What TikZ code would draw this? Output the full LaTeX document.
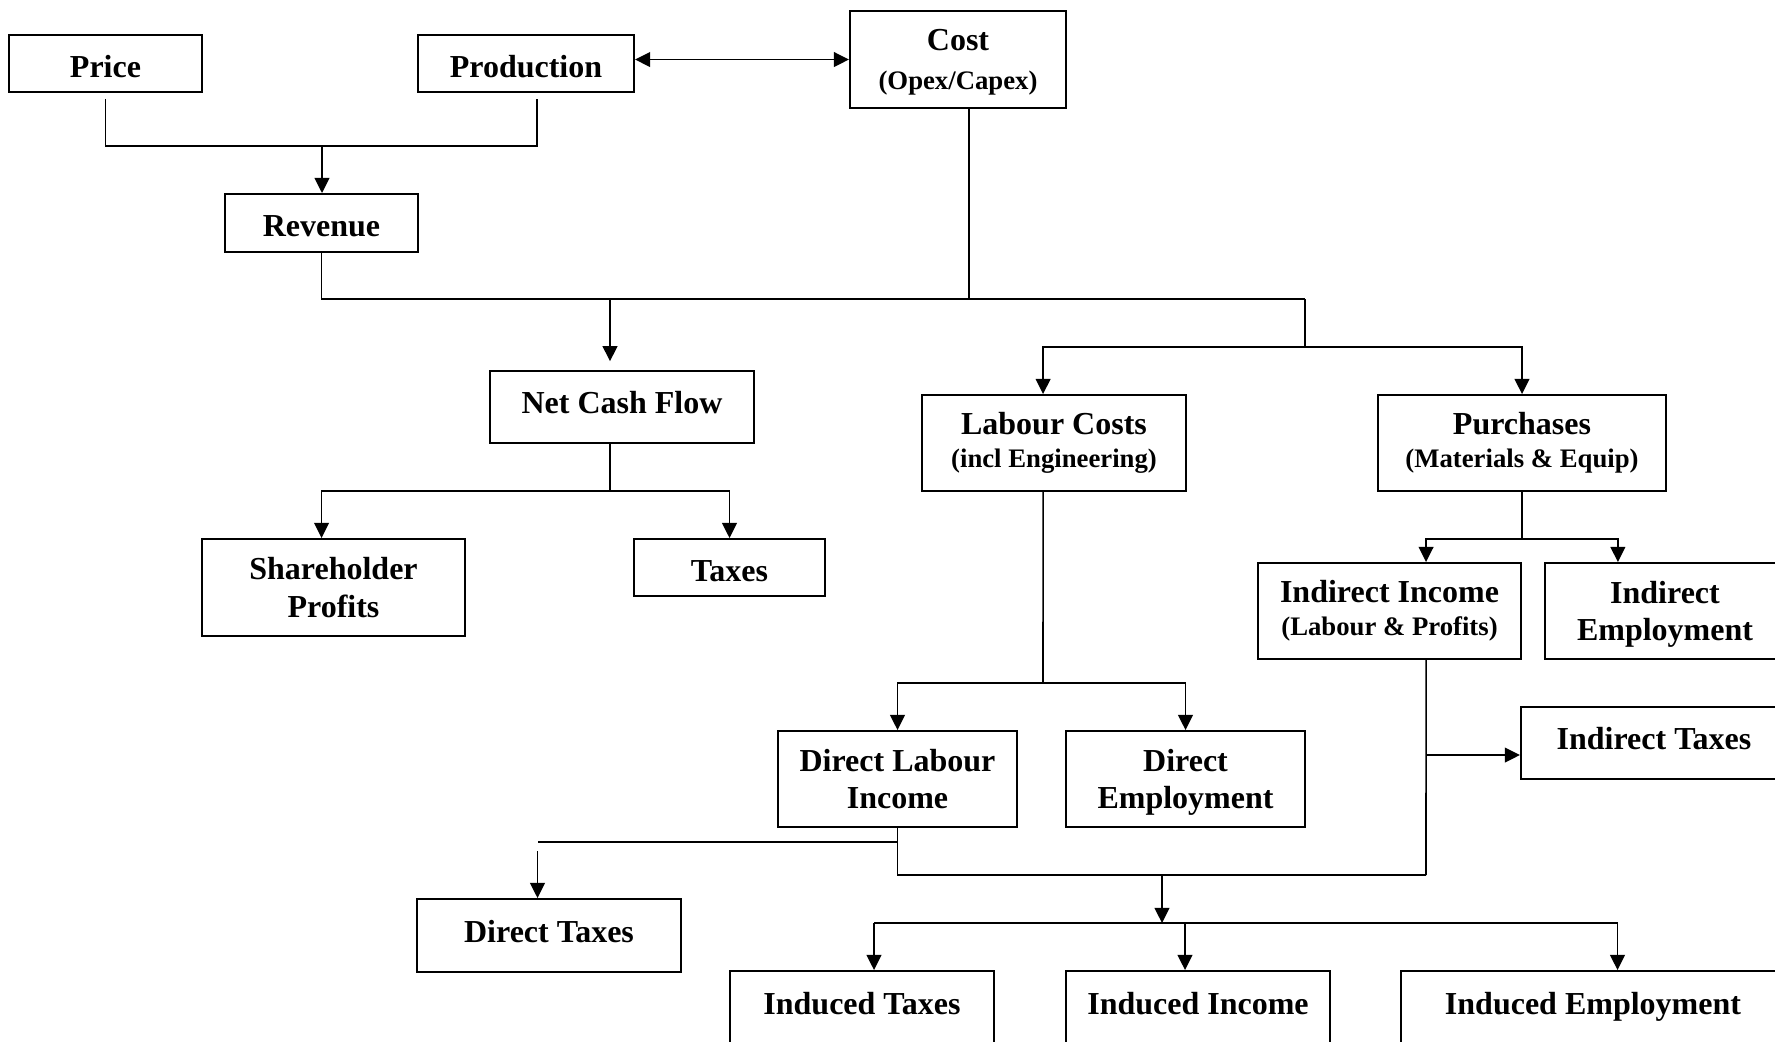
\documentclass[tikz,border=0pt]{standalone}
\usepackage{fontspec}
\setmainfont{Liberation Serif}
\usetikzlibrary{arrows.meta,positioning}
\tikzset{every picture/.style={line width=0.45pt}}
\tikzstyle{bx}=[draw,rectangle,align=center,inner sep=0pt,line width=0.55pt,font=\fontsize{9.1pt}{10.7pt}\selectfont\bfseries]
\tikzstyle{lowtxt}=[text height=7.8pt,text depth=0pt]
\tikzstyle{hightxt}=[text height=6.5pt,text depth=2.7pt]
\newcommand{\subline}[1]{{\fontsize{7.6pt}{9pt}\selectfont #1}}
\newcommand{\nodp}[1]{\raisebox{0pt}[\height][0pt]{#1}}

\begin{document}
\begin{tikzpicture}
  [x=0.01cm,y=-0.01cm,>={Triangle[length=4.3pt,width=4.2pt]}]
  \useasboundingbox (0,0) rectangle (1775,1041);
  \node[bx,lowtxt,minimum width=1.93cm,minimum height=.57cm] (price) at (105.5,63.5) {Price};
  \node[bx,lowtxt,minimum width=2.16cm,minimum height=.57cm] (prod) at (526,63.5) {Production};
  \node[bx,minimum width=2.16cm,minimum height=.97cm] (cost) at (958,59.5) {Cost\\[0.5pt]\nodp{\subline{(Opex/Capex)}}};
  \node[bx,lowtxt,minimum width=1.93cm,minimum height=.58cm] (rev) at (321.5,223) {Revenue};
  \node[bx,hightxt,minimum width=2.64cm,minimum height=.72cm] (ncf) at (622,407) {Net Cash Flow};
  \node[bx,minimum width=2.63cm,minimum height=.97cm] (share) at (333.5,587.5) {Shareholder\\Profits};
  \node[bx,lowtxt,minimum width=1.91cm,minimum height=.57cm] (tax) at (729.5,567.5) {Taxes};
  \node[bx,minimum width=2.64cm,minimum height=.96cm] (labour) at (1054,443) {Labour Costs\\[-1.2pt]\subline{(incl Engineering)}};
  \node[bx,minimum width=2.88cm,minimum height=.96cm] (purch) at (1522,443) {Purchases\\[-1.2pt]\subline{(Materials \& Equip)}};
  \node[bx,minimum width=2.63cm,minimum height=.96cm] (iinc) at (1389.5,611) {Indirect Income\\[-1.2pt]\subline{(Labour \& Profits)}};
  \node[bx,minimum width=2.40cm,minimum height=.96cm] (iemp) at (1665,611) {Indirect\\\nodp{Employment}};
  \node[bx,hightxt,minimum width=2.66cm,minimum height=.72cm] (itax) at (1654,743) {Indirect Taxes};
  \node[bx,minimum width=2.39cm,minimum height=.96cm] (dli) at (897.5,779) {Direct Labour\\Income};
  \node[bx,minimum width=2.39cm,minimum height=.96cm] (demp) at (1185.5,779) {Direct\\\nodp{Employment}};
  \node[bx,hightxt,minimum width=2.64cm,minimum height=.73cm] (dtax) at (549,935.5) {Direct Taxes};
  \node[bx,minimum width=2.64cm,minimum height=.97cm] (indtax) at (862,1019.5) {Induced Taxes\\[-1.3pt]\mbox{}};
  \node[bx,minimum width=2.64cm,minimum height=.97cm] (indinc) at (1198,1019.5) {Induced Income\\[-1.3pt]\mbox{}};
  \node[bx,minimum width=3.84cm,minimum height=.97cm] (indemp) at (1593,1019.5) {Induced Employment\\[-1.3pt]\mbox{}};

  % revenue
  \coordinate (pr) at (322,146);
  \draw[shorten <=1.7pt,shorten >=1.7pt] (price.south) |- (pr) -| ([xshift=3.1pt]prod.south);
  \draw[->] (pr) -- (pr |- rev.north);
  \draw[<->] (cost.west -| prod.east) -- (cost.west);

  % cash flow and costs
  \coordinate (rc) at (1305,299);
  \coordinate (nc) at (610,299);
  \coordinate (cs) at ([xshift=3.2pt]cost.south);
  \draw (rev.south) |- (rc);
  \draw (cs) -- (cs |- rc);
  \draw[->,shorten >=2.5pt] (nc) -- (nc |- ncf.north);
  \coordinate (lp) at (1305,347);
  \draw (rc) -- (lp);
  \draw[->] (lp) -| ([xshift=-3.1pt]labour.north);
  \draw[->] (lp) -| (purch.north);

  % net cash flow
  \coordinate (ns) at (610,491);
  \draw (nc |- ncf.south) -- (ns);
  \draw[->] (ns) -| ([xshift=-3.4pt]share.north);
  \draw[->] (ns) -| (tax.north);

  % labour
  \coordinate (ls) at (1043,683);
  \draw ([xshift=-3.1pt]labour.south) -- (ls);
  \draw[->] (ls) -| (dli.north);
  \draw[->] (ls) -| (demp.north);

  % purchases
  \coordinate (ps) at (1522,539);
  \draw (purch.south) -- (ps);
  \draw[->] (ps) -| ([xshift=10.4pt]iinc.north);
  \draw[->] (ps) -| ([xshift=-13.4pt]iemp.north);

  % indirect and direct
  \coordinate (ii) at (1426,875);
  \coordinate (it) at (1426,755);
  \draw ([xshift=10.4pt]iinc.south) -- (ii);
  \draw[->] (it) -- (it -| itax.west);
  \draw (dli.south) |- (ii);
  \coordinate (dt) at (537.5,842);
  \draw (dli.south |- dt) -- (dt);
  \draw[->] ([yshift=-2.6pt]dt) -- (dt |- dtax.north);

  % induced
  \coordinate (id) at (1162,875);
  \coordinate (ih) at (1162,923);
  \coordinate (ia) at (874,923);
  \coordinate (ic) at (1185,923);
  \coordinate (ib) at (1617.5,923);
  \draw[->] (id) -- (ih);
  \draw (ia) -- (ib);
  \draw[->] (ia) -- (ia |- indtax.north);
  \draw[->] (ic) -- (ic |- indinc.north);
  \draw[->] (ib) -- (ib |- indemp.north);
\end{tikzpicture}
\end{document}
